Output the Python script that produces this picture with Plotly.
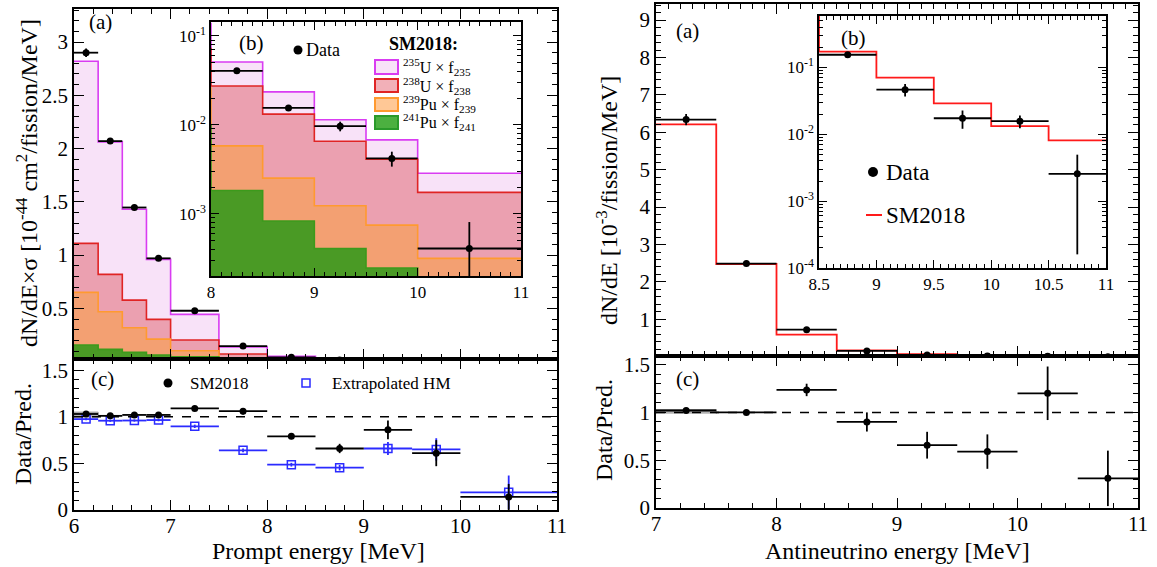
import plotly.graph_objects as go

# ---------------- data : prompt energy (left) ----------------
prompt_edges = [6.0, 6.25, 6.5, 6.75, 7.0, 7.5, 8.0, 8.5, 9.0, 9.5, 10.0, 11.0]
# cumulative (stacked) SM2018 prediction, 10^-44 cm^2/fission/MeV
stack_u235 = [2.82, 2.063, 1.43, 0.96, 0.444, 0.138, 0.051, 0.0235, 0.0114, 0.00678, 0.00286]
stack_u238 = [1.11, 0.819, 0.578, 0.397, 0.203, 0.072, 0.0274, 0.0132, 0.00655, 0.00411, 0.00174]
stack_pu239 = [0.65, 0.468, 0.318, 0.212, 0.102, 0.026, 0.0058, 0.00252, 0.00123, 0.000746, 0.000315]
stack_pu241 = [0.156, 0.115, 0.087, 0.062, 0.046, 0.010, 0.00183, 0.00083, 0.000405, 0.000245, 0.00008]
prompt_data = [2.90, 2.07, 1.447, 0.97, 0.478, 0.146, 0.0405, 0.0155, 0.00966, 0.00419, 0.000407]
prompt_data_err = [0.04, 0.025, 0.02, 0.015, 0.012, 0.006, 0.0015, 0.0008, 0.0012, 0.0008, 0.0004]
ratio_sm = [1.03, 1.01, 1.02, 1.02, 1.09, 1.06, 0.79, 0.66, 0.86, 0.61, 0.14]
ratio_sm_err = [0.015, 0.012, 0.014, 0.015, 0.02, 0.035, 0.03, 0.05, 0.1, 0.14, 0.14]
ratio_hm = [0.975, 0.958, 0.96, 0.965, 0.898, 0.64, 0.486, 0.454, 0.66, 0.65, 0.19]
ratio_hm_err = [0.012, 0.012, 0.012, 0.013, 0.018, 0.02, 0.02, 0.03, 0.07, 0.12, 0.18]
prompt_norm_band = [0.99, 1.05]      # grey normalisation box, first bin

# ---------------- data : antineutrino energy (right) ----------------
nu_edges = [7.0, 7.5, 8.0, 8.5, 9.0, 9.5, 10.0, 10.5, 11.0]
nu_sm2018 = [6.21, 2.48, 0.59, 0.173, 0.0703, 0.0291, 0.01324, 0.0081]
nu_data = [6.34, 2.49, 0.725, 0.155, 0.0466, 0.0174, 0.0157, 0.00256]
nu_data_err = [0.15, 0.05, 0.04, 0.01, 0.0098, 0.0053, 0.0034, 0.0024]
nu_ratio = [1.02, 1.0, 1.235, 0.90, 0.657, 0.59, 1.2, 0.31]
nu_ratio_err = [0.02, 0.015, 0.065, 0.1, 0.14, 0.18, 0.28, 0.29]
nu_norm_band = [0.985, 1.03]

# ---------------- styling ----------------
W, H = 1157, 567
FONT = "Liberation Serif, Times New Roman, serif"
C_U235_FILL, C_U235_LINE = "#f8e2f8", "#d93cf2"
C_U238_FILL, C_U238_LINE = "#eba0b0", "#e02424"
C_PU239_FILL, C_PU239_LINE = "#f3a072", "#ff9a30"
C_PU241_FILL, C_PU241_LINE = "#4a9a25", "#3c9a1c"
BLUE = "#2b2bff"


def px(x):
    return x / W


def py(y):
    return 1 - y / H


def centers(edges):
    return [(edges[i] + edges[i + 1]) / 2 for i in range(len(edges) - 1)]


def halfw(edges):
    return [(edges[i + 1] - edges[i]) / 2 for i in range(len(edges) - 1)]


def step_xy(edges, vals, base=None):
    xs, ys = [], []
    if base is not None:
        xs.append(edges[0]); ys.append(base)
    for i, v in enumerate(vals):
        xs += [edges[i], edges[i + 1]]
        ys += [v, v]
    if base is not None:
        xs.append(edges[-1]); ys.append(base)
    return xs, ys


fig = go.Figure()

stacks = [
    (stack_u235, C_U235_FILL, C_U235_LINE),
    (stack_u238, C_U238_FILL, C_U238_LINE),
    (stack_pu239, C_PU239_FILL, C_PU239_LINE),
    (stack_pu241, C_PU241_FILL, C_PU241_LINE),
]

# left main panel (x, y) and left inset (x5, y5)
for (xa, ya, base) in [("x", "y", 0.0), ("x5", "y5", 1e-7)]:
    for vals, fc, lc in stacks:
        xs, ys = step_xy(prompt_edges, vals, base)
        fig.add_trace(go.Scatter(x=xs, y=ys, mode="lines", fill="toself", fillcolor=fc,
                                 line=dict(width=0), xaxis=xa, yaxis=ya,
                                 showlegend=False, hoverinfo="skip"))
        xs, ys = step_xy(prompt_edges, vals)
        fig.add_trace(go.Scatter(x=xs, y=ys, mode="lines", line=dict(color=lc, width=1.6),
                                 xaxis=xa, yaxis=ya, showlegend=False, hoverinfo="skip"))
    fig.add_trace(go.Scatter(x=centers(prompt_edges), y=prompt_data, mode="markers",
                             marker=dict(color="black", size=7),
                             error_x=dict(type="data", array=halfw(prompt_edges), color="black",
                                          thickness=1.8, width=0),
                             error_y=dict(type="data", array=prompt_data_err, color="black",
                                          thickness=1.8, width=0),
                             xaxis=xa, yaxis=ya, showlegend=False))

# left ratio panel
xs, ys = step_xy(prompt_edges[:2], [prompt_norm_band[1]], prompt_norm_band[0])
fig.add_trace(go.Scatter(x=xs, y=ys, mode="lines", fill="toself", fillcolor="#b4b4b4",
                         line=dict(color="#999999", width=1), xaxis="x2", yaxis="y2",
                         showlegend=False, hoverinfo="skip"))
fig.add_trace(go.Scatter(x=centers(prompt_edges), y=ratio_hm, mode="markers",
                         marker=dict(symbol="square-open", color=BLUE, size=8, line=dict(width=1.5, color=BLUE)),
                         error_x=dict(type="data", array=halfw(prompt_edges), color=BLUE, thickness=1.8, width=0),
                         error_y=dict(type="data", array=ratio_hm_err, color=BLUE, thickness=1.8, width=0),
                         xaxis="x2", yaxis="y2", showlegend=False))
fig.add_trace(go.Scatter(x=centers(prompt_edges), y=ratio_sm, mode="markers",
                         marker=dict(color="black", size=7),
                         error_x=dict(type="data", array=halfw(prompt_edges), color="black", thickness=1.8, width=0),
                         error_y=dict(type="data", array=ratio_sm_err, color="black", thickness=1.8, width=0),
                         xaxis="x2", yaxis="y2", showlegend=False))

# right main panel (x3, y3) and right inset (x6, y6)
for (xa, ya) in [("x3", "y3"), ("x6", "y6")]:
    xs, ys = step_xy(nu_edges, nu_sm2018)
    fig.add_trace(go.Scatter(x=xs, y=ys, mode="lines", line=dict(color="#ff1a1a", width=1.8),
                             xaxis=xa, yaxis=ya, showlegend=False, hoverinfo="skip"))
    fig.add_trace(go.Scatter(x=centers(nu_edges), y=nu_data, mode="markers",
                             marker=dict(color="black", size=7),
                             error_x=dict(type="data", array=halfw(nu_edges), color="black", thickness=1.8, width=0),
                             error_y=dict(type="data", array=nu_data_err, color="black", thickness=1.8, width=0),
                             xaxis=xa, yaxis=ya, showlegend=False))

# right ratio panel
xs, ys = step_xy(nu_edges[:2], [nu_norm_band[1]], nu_norm_band[0])
fig.add_trace(go.Scatter(x=xs, y=ys, mode="lines", fill="toself", fillcolor="#b4b4b4",
                         line=dict(color="#999999", width=1), xaxis="x4", yaxis="y4",
                         showlegend=False, hoverinfo="skip"))
fig.add_trace(go.Scatter(x=centers(nu_edges), y=nu_ratio, mode="markers",
                         marker=dict(color="black", size=7),
                         error_x=dict(type="data", array=halfw(nu_edges), color="black", thickness=1.8, width=0),
                         error_y=dict(type="data", array=nu_ratio_err, color="black", thickness=1.8, width=0),
                         xaxis="x4", yaxis="y4", showlegend=False))


def ax(domain, rng, dtick, minor_dtick, labels=True, size=21, ticklen=10, mticklen=5, anchor=None, **kw):
    d = dict(domain=domain, range=rng, dtick=dtick, tick0=0, showticklabels=labels,
             ticks="inside", ticklen=ticklen, tickwidth=1.3, tickcolor="black",
             mirror="allticks", showline=True, linecolor="black", linewidth=1.5,
             showgrid=False, zeroline=False, automargin=False,
             tickfont=dict(family=FONT, size=size, color="black"),
             minor=dict(ticks="inside", ticklen=mticklen, tickwidth=1.1, tickcolor="black",
                        dtick=minor_dtick, tick0=0, showgrid=False))
    if anchor:
        d["anchor"] = anchor
    d.update(kw)
    return d


minor_log = [m * 10 ** e for e in range(-6, 1) for m in range(2, 10)]


def logax(domain, rng, tickvals, ticktext, anchor):
    return dict(domain=domain, type="log", range=rng, tickvals=tickvals, ticktext=ticktext,
                ticks="inside", ticklen=8, tickwidth=1.3, tickcolor="black", mirror="allticks",
                showline=True, linecolor="black", linewidth=1.5, showgrid=False, zeroline=False,
                automargin=False,
                tickfont=dict(family=FONT, size=17, color="black"), anchor=anchor,
                minor=dict(ticks="inside", ticklen=4, tickwidth=1.0, tickcolor="black",
                           tickvals=minor_log, showgrid=False))


L_X = [px(74), px(557)]
R_X = [px(656), px(1138)]
fig.update_layout(
    template="none",
    width=W, height=H, margin=dict(l=0, r=0, t=0, b=0, pad=0, autoexpand=False),
    paper_bgcolor="white", plot_bgcolor="white",
    font=dict(family=FONT, color="black"),
    showlegend=False,
    xaxis=ax(L_X, [6, 11], 1, 0.2, labels=False, anchor="y"),
    yaxis=ax([py(359), py(9)], [0.025, 3.31], 0.5, 0.1, anchor="x"),
    xaxis2=ax(L_X, [6, 11], 1, 0.2, anchor="y2", ticklabelstandoff=-4),
    yaxis2=ax([py(510), py(359)], [0, 1.62], 0.5, 0.1, anchor="x2"),
    xaxis3=ax(R_X, [7, 11], 1, 0.1, labels=False, anchor="y3"),
    yaxis3=ax([py(356), py(4)], [0.02, 9.43], 1, 0.2, anchor="x3"),
    xaxis4=ax(R_X, [7, 11], 1, 0.2, anchor="y4", ticklabelstandoff=-4),
    yaxis4=ax([py(508), py(356)], [0, 1.59], 0.5, 0.1, anchor="x4"),
    xaxis5=ax([px(211), px(521)], [8, 11], 1, 0.1, size=17, ticklen=8, mticklen=4, anchor="y5"),
    yaxis5=logax([py(276), py(22)], [-3.70, -0.843], [1e-3, 1e-2, 1e-1],
                 ["10<sup>-3</sup>", "10<sup>-2</sup>", "10<sup>-1</sup>"], "x5"),
    xaxis6=ax([px(819), px(1106)], [8.5, 11], 0.5, 0.0625, size=17, ticklen=8, mticklen=4, anchor="y6"),
    yaxis6=logax([py(268), py(16)], [-4.0, -0.23], [1e-4, 1e-3, 1e-2, 1e-1],
                 ["10<sup>-4</sup>", "10<sup>-3</sup>", "10<sup>-2</sup>", "10<sup>-1</sup>"], "x6"),
)

shapes = []
# dashed unity lines in ratio panels
for xr, yr in [("x2 domain", "y2"), ("x4 domain", "y4")]:
    shapes.append(dict(type="line", xref=xr, x0=0, x1=1, yref=yr, y0=1, y1=1,
                       line=dict(color="black", width=1.5, dash="dash")))

# legend boxes (left inset)
legend_boxes = [(60, 74, C_U235_FILL, "#d93cf2"), (79, 92, "#f2b0b8", "#e02424"),
                (98, 111, "#ffc896", "#ff9a30"), (116, 129, "#4cb040", "#2a9a2a")]
for y0, y1, fc, lc in legend_boxes:
    shapes.append(dict(type="rect", xref="paper", yref="paper", x0=px(375), x1=px(398),
                       y0=py(y1), y1=py(y0), fillcolor=fc, line=dict(color=lc, width=2)))


def dot(xp, yp, r, color="black", square=False):
    return dict(type="rect" if square else "circle", xref="paper", yref="paper",
                xsizemode="pixel", ysizemode="pixel", xanchor=px(xp), yanchor=py(yp),
                x0=-r, x1=r, y0=-r, y1=r,
                fillcolor="white" if square else color,
                line=dict(color=color, width=1.5 if square else 0))


shapes.append(dot(298, 50, 4.5))
shapes.append(dot(873, 172, 5))
shapes.append(dict(type="line", xref="paper", yref="paper", x0=px(866), x1=px(882),
                   y0=py(215), y1=py(215), line=dict(color="#ff1a1a", width=2)))
shapes.append(dot(168, 383, 4.5))
shapes.append(dot(306, 383, 4, color=BLUE, square=True))
fig.update_layout(shapes=shapes)


def ann(text, x, y, size, xanchor="center", angle=0, bold=False):
    return dict(text=f"<b>{text}</b>" if bold else text, x=px(x), y=py(y), xref="paper", yref="paper",
                xanchor=xanchor, yanchor="middle", showarrow=False, textangle=angle,
                font=dict(family=FONT, size=size, color="black"))


annotations = [
    ann("(a)", 100, 22, 21), ann("(b)", 251, 43, 21), ann("(c)", 102, 379, 21),
    ann("(a)", 687, 31, 21), ann("(b)", 853, 38, 21), ann("(c)", 687, 379, 21),
    ann("Data", 304, 50, 18, xanchor="left"),
    ann("SM2018:", 423, 44, 18, bold=True),
    ann("<sup>235</sup>U × f<sub>235</sub>", 401, 67, 16, xanchor="left"),
    ann("<sup>238</sup>U × f<sub>238</sub>", 401, 86, 16, xanchor="left"),
    ann("<sup>239</sup>Pu × f<sub>239</sub>", 401, 104, 16, xanchor="left"),
    ann("<sup>241</sup>Pu × f<sub>241</sub>", 401, 122, 16, xanchor="left"),
    ann("Data", 884, 172, 23, xanchor="left"),
    ann("SM2018", 884, 215, 23, xanchor="left"),
    ann("SM2018", 188, 383, 17, xanchor="left"),
    ann("Extrapolated HM", 330, 383, 17, xanchor="left"),
    ann("dN/dE×σ [10<sup>-44</sup> cm<sup>2</sup>/fission/MeV]", 27, 183, 24, angle=-90),
    ann("Data/Pred.", 23, 434, 24, angle=-90),
    ann("dN/dE [10<sup>-3</sup>/fission/MeV]", 607, 201, 24, angle=-90),
    ann("Data/Pred.", 604, 430, 24, angle=-90),
    ann("Prompt energy [MeV]", 318, 551, 24),
    ann("Antineutrino energy [MeV]", 897, 551, 24),
]
fig.update_layout(annotations=annotations)

# remove the default page margin so the figure sits at the window's top-left corner
fig.write_html("out.html", config={"displayModeBar": False},
               post_script="document.body.style.margin='0px';document.body.style.overflow='hidden';")
